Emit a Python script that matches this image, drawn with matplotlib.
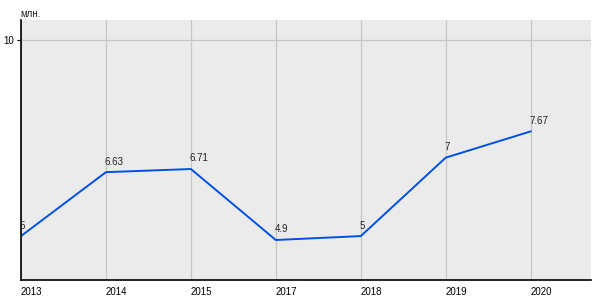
import matplotlib
matplotlib.use("Agg")
import matplotlib.pyplot as plt
import matplotlib.transforms as mtransforms

plt.rcParams["font.family"] = ["Liberation Sans", "DejaVu Sans"]

years = ["2013", "2014", "2015", "2017", "2018", "2019", "2020"]
values = [5, 6.63, 6.71, 4.9, 5, 7, 7.67]
value_labels = ["5", "6.63", "6.71", "4.9", "5", "7", "7.67"]
y_ticks = [10]

fig = plt.figure(figsize=(6, 3), dpi=100)
ax = fig.add_axes([21 / 600, 20 / 300, 570 / 600, 260 / 300])
ax.set_facecolor("#ebebeb")

xs = list(range(len(years)))
ax.plot(xs, values, color="#0050e6", linewidth=1.4, solid_joinstyle="round")

for x, v, lab in zip(xs, values, value_labels):
    ax.annotate(lab, (x, v), xytext=(-1, 4), textcoords="offset points",
                ha="left", va="bottom", fontsize=7, color="#222222")

ax.set_xlim(0, 6.71)
ax.set_ylim(3.88, 10.51)
ax.set_xticks(xs)
ax.set_xticklabels(years, fontsize=7, ha="left")
shift = mtransforms.ScaledTranslation(-2 / 100, 0, fig.dpi_scale_trans)
for lbl in ax.get_xticklabels():
    lbl.set_transform(lbl.get_transform() + shift)
ax.set_yticks(y_ticks)
ax.set_yticklabels([str(t) for t in y_ticks], fontsize=7)
ax.tick_params(axis="x", length=0, pad=5)
ax.tick_params(axis="y", length=3, width=0.8, pad=2)
ax.grid(True, color="#c6c6c6", linewidth=0.9)
ax.set_axisbelow(True)

for side in ["top", "right"]:
    ax.spines[side].set_visible(False)
for side in ["left", "bottom"]:
    ax.spines[side].set_linewidth(1.2)
    ax.spines[side].set_color("black")

fig.text(20 / 600, 1 - 14 / 300, "млн.", fontsize=7, va="center", ha="left", color="#222222")

fig.savefig("out.png", dpi=100)
